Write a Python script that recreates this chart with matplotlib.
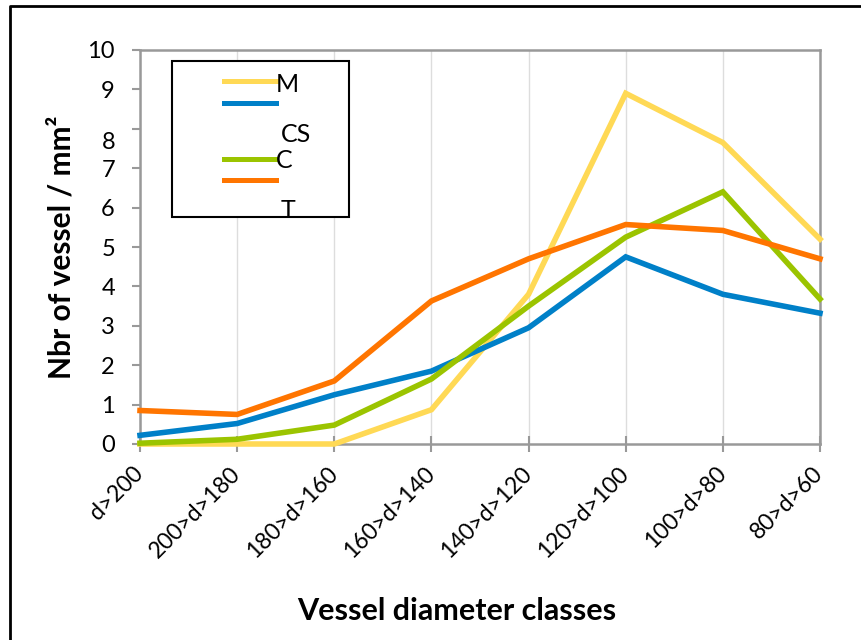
import matplotlib
matplotlib.use("Agg")
import matplotlib.pyplot as plt
from matplotlib.lines import Line2D
from matplotlib.patches import Rectangle
import matplotlib.transforms as mtransforms

categories = ["d>200", "200>d>180", "180>d>160", "160>d>140", "140>d>120",
              "120>d>100", "100>d>80", "80>d>60"]
series_names = ["M", "CS", "C", "T"]
M = [0.0, 0.0, 0.0, 0.87, 3.8, 8.9, 7.65, 5.2]
CS = [0.22, 0.52, 1.25, 1.85, 2.95, 4.75, 3.8, 3.32]
C = [0.02, 0.12, 0.48, 1.65, 3.5, 5.25, 6.4, 3.68]
T = [0.85, 0.75, 1.6, 3.63, 4.7, 5.57, 5.42, 4.7]
yticks = list(range(0, 11))

colors = ["#FFD955", "#0080C8", "#9BC400", "#FF7500"]
values = [M, CS, C, T]

plt.rcParams['font.family'] = ['Lato', 'DejaVu Sans']

W, H = 861, 640
fig = plt.figure(figsize=(W / 100, H / 100), dpi=100)
ax = fig.add_axes([140 / W, 1 - 444 / H, 680 / W, 394 / H])

x = list(range(len(categories)))
for vals, col in zip(values, colors):
    ax.plot(x, vals, color=col, lw=4.0, solid_joinstyle='miter', zorder=3, clip_on=False)

ax.set_xlim(0, len(categories) - 1)
ax.set_ylim(0, 10)
ax.set_xticks(x)
ax.set_xticklabels(categories, rotation=45, ha='right', va='center',
                   rotation_mode='anchor', fontsize=16.5)
shift = mtransforms.ScaledTranslation(6 / 100, 0, fig.dpi_scale_trans)
for lab in ax.get_xticklabels():
    lab.set_transform(lab.get_transform() + shift)
ax.set_yticks(yticks)
ylabels = [str(v) if v != 8 else "" for v in yticks]
ax.set_yticklabels(ylabels, fontsize=17)
ax.tick_params(axis='x', length=12, width=1.5, color='#999999', pad=13, direction='inout')
ax.tick_params(axis='y', length=6, width=1.5, color='#999999', pad=12, direction='out')
# the "8" label sits lower in the reference
trans = mtransforms.blended_transform_factory(fig.transFigure, ax.transData)
fig.text(115 / W, 7.66, "8", transform=trans, fontsize=17, ha='right', va='center')

ax.grid(axis='x', color='#DDDDDD', lw=1)
ax.set_axisbelow(True)
for s in ax.spines.values():
    s.set_color('#999999')
    s.set_linewidth(1.8)

ax.set_ylabel("Nbr of vessel / mm²", fontsize=21.5, fontweight='bold')
ax.yaxis.set_label_coords((76 - 140) / 680, 0.5)
ax.set_xlabel("Vessel diameter classes", fontsize=22, fontweight='bold')
ax.xaxis.set_label_coords((457 - 140) / 680, -(597 - 444) / 394)

# figure border (left and top)
fig.add_artist(Line2D([10 / W, 10 / W, 1.0], [0.0, 1 - 6 / H, 1 - 6 / H],
                      transform=fig.transFigure, color='black', lw=2))

def fx(px):
    return px / W

def fy(py):
    return 1 - py / H

# legend box drawn as in the reference
fig.add_artist(Rectangle((fx(172), fy(217)), fx(349) - fx(172), fy(61) - fy(217),
                         transform=fig.transFigure, fill=True, facecolor='white',
                         edgecolor='black', lw=1.5, zorder=5))
leg_line_y = [81, 103, 159, 180]
for ly, col in zip(leg_line_y, colors):
    fig.add_artist(Line2D([fx(224), fx(276)], [fy(ly), fy(ly)], transform=fig.transFigure,
                          color=col, lw=3.6, zorder=6))
label_pos = [(276, 84), (281, 135), (276, 161), (281, 210)]
for (lx, ly), name in zip(label_pos, series_names):
    fig.text(fx(lx), fy(ly), name, fontsize=18, va='center', ha='left', zorder=7)

fig.savefig("out.png", dpi=100)
